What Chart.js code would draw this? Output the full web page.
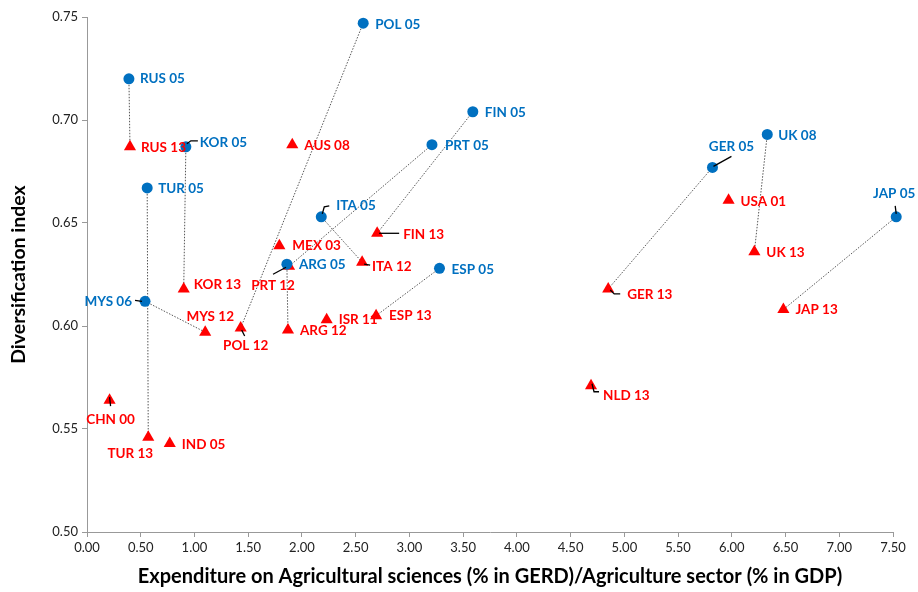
<!DOCTYPE html>
<html>
<head>
<meta charset="utf-8">
<script src="https://cdn.jsdelivr.net/npm/chart.js@4"></script>
<style>
  html, body { margin: 0; padding: 0; background: #fff; }
  #wrap { width: 918px; height: 592px; }
</style>
</head>
<body>
<div id="wrap"><canvas id="grafico" width="918" height="592"></canvas></div>
<script>
// first year of each country (blue circles)
var blueLabels = ['RUS 05', 'KOR 05', 'TUR 05', 'MYS 06', 'POL 05', 'FIN 05', 'PRT 05', 'ITA 05', 'ARG 05', 'ESP 05', 'GER 05', 'UK 08', 'JAP 05'];
var blueX = [0.39, 0.92, 0.56, 0.54, 2.57, 3.59, 3.21, 2.18, 1.86, 3.28, 5.82, 6.33, 7.53];
var blueY = [0.720, 0.687, 0.667, 0.612, 0.747, 0.704, 0.688, 0.653, 0.630, 0.628, 0.677, 0.693, 0.653];

// latest year (red triangles)
var redLabels = ['RUS 13', 'AUS 08', 'KOR 13', 'MYS 12', 'POL 12', 'MEX 03', 'PRT 12', 'ARG 12', 'ISR 11', 'ESP 13', 'ITA 12', 'FIN 13', 'CHN 00', 'TUR 13', 'IND 05', 'GER 13', 'USA 01', 'UK 13', 'JAP 13', 'NLD 13'];
var redX = [0.40, 1.91, 0.90, 1.10, 1.43, 1.79, 1.88, 1.87, 2.23, 2.69, 2.56, 2.70, 0.21, 0.57, 0.77, 4.85, 5.97, 6.21, 6.48, 4.69];
var redY = [0.687, 0.688, 0.618, 0.597, 0.599, 0.639, 0.629, 0.598, 0.603, 0.605, 0.631, 0.645, 0.564, 0.546, 0.543, 0.618, 0.661, 0.636, 0.608, 0.571];

// pares ligados por linha pontilhada
var links = [
  ['RUS 05', 'RUS 13'], ['KOR 05', 'KOR 13'], ['TUR 05', 'TUR 13'], ['MYS 06', 'MYS 12'],
  ['POL 05', 'POL 12'], ['FIN 05', 'FIN 13'], ['PRT 05', 'PRT 12'], ['ITA 05', 'ITA 12'],
  ['ARG 05', 'ARG 12'], ['ESP 05', 'ESP 13'], ['GER 05', 'GER 13'], ['UK 08', 'UK 13'],
  ['JAP 05', 'JAP 13']
];

var xTicks = [0, 0.5, 1, 1.5, 2, 2.5, 3, 3.5, 4, 4.5, 5, 5.5, 6, 6.5, 7, 7.5];
var yTicks = [0.50, 0.55, 0.60, 0.65, 0.70, 0.75];

var xTitle = 'Expenditure on Agricultural sciences (% in GERD)/Agriculture sector (% in GDP)';
var yTitle = 'Diversification index';

// posição dos rótulos (em pixels, relativo ao ponto) e linhas de chamada
var labelPos = {
  'RUS 05': { dx: 11, dy: 0 }, 'RUS 13': { dx: 11, dy: 1 },
  'KOR 05': { dx: 14, dy: -4, lead: [[1, -3], [5, -6], [12, -6]] },
  'TUR 05': { dx: 11, dy: 1 },
  'MYS 06': { dx: -13, dy: 0, align: 'right', lead: [[-3, 0], [-10, -1]] },
  'KOR 13': { dx: 10, dy: -4 },
  'MYS 12': { dx: 5, dy: -16, align: 'center' },
  'POL 12': { dx: 5, dy: 18, align: 'center', lead: [[1, 2], [4, 8]] },
  'MEX 03': { dx: 13, dy: 0 },
  'ARG 05': { dx: 12, dy: 0 },
  'PRT 12': { dx: -16, dy: 19, align: 'center', lead: [[-3, 1], [-16, 8]] },
  'ARG 12': { dx: 12, dy: 1 },
  'ISR 11': { dx: 12, dy: 0 },
  'ESP 13': { dx: 13, dy: 0 },
  'ITA 05': { dx: 15, dy: -11, lead: [[1, -3], [3, -10], [8, -11]] },
  'ITA 12': { dx: 10, dy: 5, lead: [[2, 2], [8, 3]] },
  'FIN 13': { dx: 26, dy: 1, lead: [[2, 0], [22, 0]] },
  'ESP 05': { dx: 12, dy: 1 },
  'POL 05': { dx: 12, dy: 1 },
  'FIN 05': { dx: 12, dy: 1 },
  'PRT 05': { dx: 13, dy: 1 },
  'AUS 08': { dx: 12, dy: 1 },
  'CHN 00': { dx: 1, dy: 19, align: 'center', lead: [[0, -3], [1, 6]] },
  'TUR 13': { dx: -18, dy: 16, align: 'center' },
  'IND 05': { dx: 12, dy: 1 },
  'GER 05': { dx: 19, dy: -21, align: 'center', lead: [[1, -1], [19, -11]] },
  'UK 08': { dx: 11, dy: 1 },
  'USA 01': { dx: 12, dy: 1 },
  'UK 13': { dx: 12, dy: 1 },
  'GER 13': { dx: 19, dy: 6, lead: [[2, 1], [6, 5], [12, 5]] },
  'JAP 05': { dx: -2, dy: -23, align: 'center', lead: [[0, -3], [-1, -11]] },
  'JAP 13': { dx: 12, dy: 0 },
  'NLD 13': { dx: 12, dy: 10, lead: [[1, -2], [3, 6], [8, 6]] }
};

var AZUL = '#0070C0';
var VERMELHO = '#FF0000';

function pontos(xs, ys) {
  return xs.map(function(x, i) { return { x: x, y: ys[i] }; });
}

function acharPonto(nome) {
  var i = blueLabels.indexOf(nome);
  if (i >= 0) return { x: blueX[i], y: blueY[i] };
  i = redLabels.indexOf(nome);
  return { x: redX[i], y: redY[i] };
}

var datasets = [];
links.forEach(function(par) {
  datasets.push({
    type: 'line',
    data: [acharPonto(par[0]), acharPonto(par[1])],
    borderColor: '#555555',
    borderWidth: 1,
    borderDash: [1.5, 1.5],
    pointRadius: 0,
    fill: false,
    clip: false,
    order: 3
  });
});
datasets.push({
  label: 'blue',
  data: pontos(blueX, blueY),
  labels: blueLabels,
  labelColor: AZUL,
  pointStyle: 'circle',
  pointRadius: 5.5,
  pointHoverRadius: 5.5,
  backgroundColor: AZUL,
  borderColor: AZUL,
  borderWidth: 0,
  clip: false,
  order: 1
});
datasets.push({
  label: 'red',
  data: pontos(redX, redY),
  labels: redLabels,
  labelColor: VERMELHO,
  pointStyle: 'triangle',
  pointRadius: 7,
  pointHoverRadius: 7,
  backgroundColor: VERMELHO,
  borderColor: VERMELHO,
  borderWidth: 0,
  clip: false,
  order: 2
});

// desenha rótulos e linhas de chamada
var rotulos = {
  id: 'rotulos',
  afterDatasetsDraw: function(chart) {
    var ctx = chart.ctx;
    ctx.save();
    ctx.font = 'bold 13.5px Lato';
    ctx.textBaseline = 'middle';
    chart.data.datasets.forEach(function(ds, di) {
      if (!ds.labels) return;
      var meta = chart.getDatasetMeta(di);
      meta.data.forEach(function(el, i) {
        var nome = ds.labels[i];
        var p = labelPos[nome] || { dx: 11, dy: 0 };
        if (p.lead) {
          ctx.strokeStyle = '#000';
          ctx.lineWidth = 1.3;
          ctx.beginPath();
          p.lead.forEach(function(q, k) {
            if (k === 0) ctx.moveTo(el.x + q[0], el.y + q[1]);
            else ctx.lineTo(el.x + q[0], el.y + q[1]);
          });
          ctx.stroke();
        }
        ctx.fillStyle = ds.labelColor;
        ctx.textAlign = p.align || 'left';
        ctx.fillText(nome, el.x + p.dx, el.y + p.dy);
      });
    });
    ctx.restore();
  }
};

new Chart(document.getElementById('grafico').getContext('2d'), {
  type: 'scatter',
  data: { datasets: datasets },
  plugins: [rotulos],
  options: {
    responsive: false,
    animation: false,
    events: [],
    layout: { padding: { top: 17, right: 25, bottom: 0, left: 0 } },
    plugins: { legend: { display: false }, tooltip: { enabled: false } },
    scales: {
      x: {
        type: 'linear',
        min: 0,
        max: 7.5,
        afterBuildTicks: function(s) { s.ticks = xTicks.map(function(v) { return { value: v }; }); },
        afterFit: function(s) { s.height = 60; },
        ticks: {
          font: { family: 'Lato', size: 13 },
          color: '#222',
          padding: 3,
          maxRotation: 0,
          autoSkip: false,
          callback: function(v) { return Number(v).toFixed(2); }
        },
        grid: { drawOnChartArea: false, drawTicks: true, tickLength: 5, color: '#999' },
        border: { color: '#999' },
        title: { display: true, text: xTitle, font: { family: 'Lato', size: 20, weight: 'bold' }, color: '#000', padding: { top: 4, bottom: 3 } }
      },
      y: {
        type: 'linear',
        min: 0.5,
        max: 0.75,
        afterBuildTicks: function(s) { s.ticks = yTicks.map(function(v) { return { value: v }; }); },
        afterFit: function(s) { s.width = 87; },
        ticks: {
          font: { family: 'Lato', size: 13 },
          color: '#222',
          padding: 4,
          callback: function(v) { return Number(v).toFixed(2); }
        },
        grid: { drawOnChartArea: false, drawTicks: true, tickLength: 5, color: '#999' },
        border: { color: '#999' },
        title: { display: true, text: yTitle, font: { family: 'Lato', size: 19.5, weight: 'bold' }, color: '#000', padding: { top: 7, bottom: 0 } }
      }
    }
  }
});
</script>
</body>
</html>
